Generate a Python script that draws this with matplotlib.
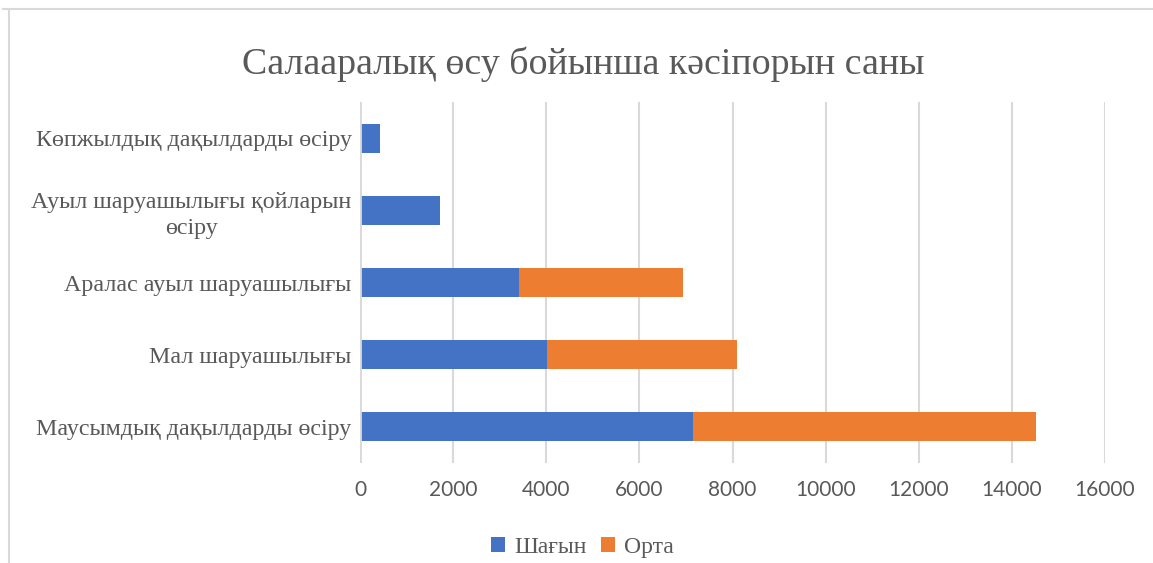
import matplotlib
matplotlib.use("Agg")
import matplotlib.pyplot as plt
from matplotlib.patches import Patch
from matplotlib.lines import Line2D

categories = ["Маусымдық дақылдарды өсіру", "Мал шаруашылығы", "Аралас ауыл шаруашылығы",
              "Ауыл шаруашылығы қойларын\nөсіру", "Көпжылдық дақылдарды өсіру"]
small = [7160, 4020, 3420, 1710, 420]
medium = [7360, 4080, 3520, 0, 0]
series_names = ["Шағын", "Орта"]
xticks = [0, 2000, 4000, 6000, 8000, 10000, 12000, 14000, 16000]

BLUE = "#4472C4"
ORANGE = "#ED7D31"
GRAY = "#595959"
SERIF = ["Liberation Serif", "DejaVu Serif"]

fig = plt.figure(figsize=(11.53, 5.63), dpi=100)
ax = fig.add_axes([0.3122, 0.1776, 0.6462, 0.6412])

y = list(range(len(categories)))
ax.barh(y, small, height=0.4, color=BLUE, zorder=3)
ax.barh(y, medium, left=small, height=0.4, color=ORANGE, zorder=3)

ax.set_xlim(0, 16000)
ax.set_ylim(-0.5, len(categories) - 0.5)
ax.set_xticks(xticks)
ax.set_xticklabels([str(t) for t in xticks], family=["Lato", "DejaVu Sans"], fontsize=15, color=GRAY)
ax.set_yticks(y)
ax.set_yticklabels(categories, family=SERIF, fontsize=17.3, color=GRAY, linespacing=1.3,
                   multialignment="center")
ax.tick_params(axis="both", length=0)
ax.tick_params(axis="x", pad=12)
ax.tick_params(axis="y", pad=6)
for s in ax.spines.values():
    s.set_visible(False)
ax.grid(axis="x", color="#D9D9D9", linewidth=1.5, zorder=0)
ax.axvline(0, color="#D9D9D9", linewidth=2, zorder=4)

fig.text(0.506, 0.886, "Салааралық өсу бойынша кәсіпорын саны", ha="center", va="center",
         family=SERIF, fontsize=27.3, color=GRAY)

# outer chart border (top and left visible)
fig.add_artist(Line2D([0.003, 1.0], [1 - 8.5 / 563, 1 - 8.5 / 563], transform=fig.transFigure,
                      color="#D9D9D9", linewidth=1.5))
fig.add_artist(Line2D([8.5 / 1153, 8.5 / 1153], [0, 1 - 8.5 / 563], transform=fig.transFigure,
                      color="#D9D9D9", linewidth=1.5))

handles = [Patch(facecolor=BLUE), Patch(facecolor=ORANGE)]
fig.legend(handles, series_names, loc="center", bbox_to_anchor=(0.505, 0.027), ncol=2, frameon=False,
           prop={"family": SERIF, "size": 17}, labelcolor=GRAY, handlelength=0.6, handleheight=0.6,
           handletextpad=0.4, columnspacing=0.6)

fig.savefig("out.png", dpi=100, facecolor="white")
